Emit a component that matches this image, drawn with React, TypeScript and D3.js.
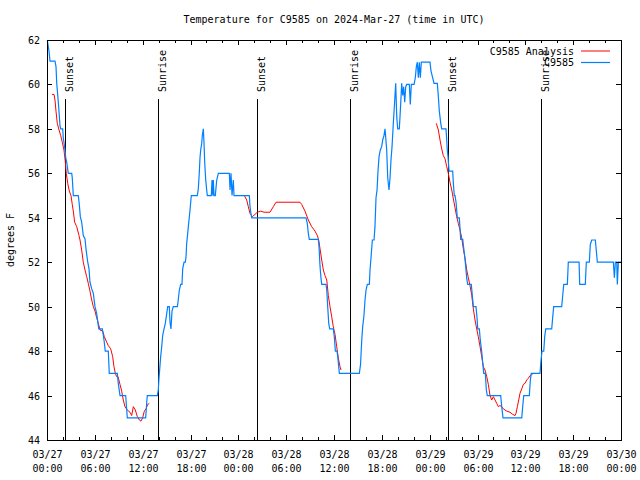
import React from "react";
import * as d3 from "d3";

// Hours since 2024-03-27 00:00 UTC, temperature (°F)
const obsSeries: [number, number][] = [
  [0.04, 62.0], [0.25, 61.5], [0.38, 61.05], [1.0, 61.05], [1.13, 60.8], [1.22, 60.05], [1.42, 59.2],
  [1.54, 58.6], [1.63, 58.15], [1.72, 58.0], [1.97, 58.0], [2.04, 57.6], [2.26, 57.05], [2.35, 56.7],
  [2.47, 56.5], [2.67, 56.0], [3.1, 56.0], [3.17, 55.8], [3.3, 55.0], [3.93, 55.0], [4.05, 54.6],
  [4.18, 54.05], [4.35, 53.8], [4.55, 53.2], [4.77, 53.05], [4.89, 52.6], [5.11, 52.0], [5.27, 51.7],
  [5.39, 51.1], [5.61, 50.8], [5.81, 50.6], [6.02, 50.0], [6.23, 49.7], [6.49, 49.0], [6.94, 49.0],
  [7.15, 48.5], [7.31, 48.0], [7.69, 48.0], [7.81, 47.0], [8.82, 47.0], [8.94, 46.55], [9.16, 46.0],
  [9.87, 46.0], [10.0, 45.35], [10.07, 45.0], [12.38, 45.0], [12.51, 45.7], [12.58, 46.0], [13.84, 46.0],
  [13.96, 46.25], [14.05, 46.8], [14.14, 47.2], [14.26, 47.75], [14.39, 48.2], [14.51, 48.7], [14.68, 49.0],
  [14.84, 49.25], [15.02, 49.7], [15.14, 50.0], [15.34, 50.0], [15.43, 49.3], [15.55, 49.0], [15.68, 49.8],
  [15.84, 50.0], [16.35, 50.0], [16.43, 50.2], [16.6, 50.75], [16.77, 51.0], [16.93, 51.0], [17.02, 51.7],
  [17.19, 52.0], [17.35, 52.0], [17.44, 52.25], [17.52, 52.85], [17.65, 53.3], [17.77, 53.75], [17.94, 54.35],
  [18.1, 55.0], [18.85, 55.0], [18.98, 55.3], [19.1, 56.0], [19.19, 56.7], [19.28, 57.05], [19.41, 57.35],
  [19.48, 57.7], [19.61, 58.0], [19.69, 57.4], [19.78, 56.5], [19.91, 55.7], [20.03, 55.25], [20.11, 55.0],
  [20.61, 55.0], [20.7, 55.7], [20.79, 55.0], [20.86, 55.7], [20.95, 55.0], [21.11, 55.0], [21.29, 55.7],
  [21.49, 56.0], [22.87, 56.0], [22.96, 55.25], [23.08, 56.0], [23.21, 55.0], [23.37, 55.7], [23.46, 55.0],
  [25.38, 55.0], [25.46, 54.5], [25.55, 54.27], [25.68, 54.0], [32.49, 54.0], [32.65, 53.75], [32.78, 53.3],
  [32.9, 53.03], [34.03, 53.03], [34.12, 52.7], [34.25, 51.8], [34.37, 51.27], [34.46, 51.0], [35.0, 51.0],
  [35.09, 50.75], [35.21, 50.0], [35.34, 49.25], [35.46, 49.0], [35.91, 49.0], [36.04, 48.65], [36.17, 48.0],
  [36.38, 48.0], [36.47, 47.75], [36.59, 47.3], [36.67, 47.0], [39.18, 47.0], [39.33, 47.4], [39.48, 48.5],
  [39.6, 49.1], [39.76, 49.6], [39.89, 50.3], [40.02, 50.75], [40.18, 51.0], [40.43, 51.0], [40.52, 51.65],
  [40.64, 52.2], [40.81, 53.0], [41.02, 53.0], [41.14, 53.6], [41.27, 54.9], [41.4, 55.25], [41.52, 56.1],
  [41.65, 56.75], [41.81, 57.05], [41.98, 57.2], [42.11, 57.5], [42.27, 57.7], [42.4, 58.0], [42.49, 57.6],
  [42.61, 57.05], [42.74, 55.8], [42.9, 55.25], [43.03, 55.8], [43.15, 56.6], [43.28, 57.2], [43.44, 58.25],
  [43.62, 59.3], [43.74, 60.05], [43.87, 58.55], [43.99, 58.0], [44.19, 58.0], [44.28, 58.55], [44.41, 59.45],
  [44.49, 60.05], [44.62, 59.5], [44.74, 59.9], [44.87, 59.2], [45.0, 59.9], [45.12, 60.0], [45.45, 60.0],
  [45.57, 59.1], [45.7, 60.0], [46.04, 60.0], [46.2, 60.3], [46.33, 60.8], [46.45, 61.0], [46.58, 60.3],
  [46.7, 61.0], [46.83, 60.3], [46.95, 61.0], [48.04, 61.0], [48.17, 60.6], [48.38, 60.3], [48.55, 60.05],
  [48.96, 60.05], [49.09, 59.45], [49.21, 58.8], [49.39, 58.25], [49.51, 58.0], [50.05, 58.0], [50.14, 57.5],
  [50.21, 57.05], [50.3, 56.75], [50.43, 56.1], [50.89, 56.1], [50.97, 55.55], [51.09, 55.0], [51.18, 55.0],
  [51.31, 54.7], [51.47, 54.0], [51.72, 54.0], [51.89, 53.03], [52.15, 53.03], [52.22, 52.8], [52.4, 52.25],
  [52.52, 51.8], [52.65, 51.27], [52.77, 51.0], [53.22, 51.0], [53.35, 50.5], [53.48, 50.0], [53.81, 50.0],
  [53.94, 49.5], [54.03, 49.0], [54.23, 49.0], [54.35, 48.5], [54.53, 47.97], [54.65, 47.5], [54.78, 47.0],
  [54.98, 47.0], [55.11, 46.25], [55.23, 46.0], [56.91, 46.0], [57.04, 45.5], [57.2, 45.0], [59.55, 45.0],
  [59.67, 45.5], [59.8, 46.0], [60.5, 46.0], [60.63, 46.7], [60.75, 47.0], [61.84, 47.0], [61.97, 47.6],
  [62.09, 48.0], [62.31, 48.0], [62.43, 48.65], [62.56, 49.0], [63.31, 49.0], [63.44, 49.55], [63.56, 50.0],
  [64.56, 50.0], [64.69, 50.5], [64.82, 51.0], [65.27, 51.0], [65.39, 52.0], [66.74, 52.0], [66.82, 51.0],
  [67.52, 51.0], [67.65, 52.0], [68.03, 52.0], [68.15, 52.8], [68.33, 53.0], [68.78, 53.0], [68.91, 52.5],
  [69.03, 52.0], [71.04, 52.0], [71.17, 51.3], [71.29, 52.0], [71.47, 52.0], [71.54, 51.0], [71.67, 52.0],
  [72.0, 52.0],
];

const analysisSeg1: [number, number][] = [
  [0.63, 59.55], [0.88, 59.55], [1.0, 59.3], [1.13, 58.8], [1.29, 58.25], [1.51, 57.95], [1.72, 57.7],
  [1.92, 57.4], [2.13, 57.05], [2.3, 56.5], [2.42, 56.0], [2.6, 55.55], [2.8, 55.2], [3.01, 55.0],
  [3.17, 54.6], [3.3, 54.3], [3.47, 53.8], [3.73, 53.6], [4.01, 53.2], [4.14, 53.0], [4.35, 52.55],
  [4.55, 52.0], [4.77, 51.65], [4.98, 51.35], [5.18, 51.05], [5.39, 50.7], [5.61, 50.3], [5.81, 50.0],
  [6.02, 49.8], [6.23, 49.5], [6.44, 49.25], [6.65, 48.95], [6.99, 48.9], [7.19, 48.65], [7.49, 48.4],
  [7.69, 48.25], [7.99, 48.1], [8.24, 47.75], [8.4, 47.3], [8.57, 47.0], [8.74, 46.85], [8.91, 46.85],
  [9.16, 46.5], [9.37, 46.2], [9.57, 45.8], [9.78, 45.5], [10.07, 45.35], [10.41, 45.25], [10.62, 45.1],
  [10.83, 45.5], [11.08, 45.35], [11.33, 45.05], [11.58, 44.9], [11.79, 44.85], [12.0, 45.0], [12.21, 45.3],
  [12.42, 45.4], [12.63, 45.6], [12.83, 45.65],
];
const analysisSeg2: [number, number][] = [
  [24.75, 55.0], [25.05, 54.8], [25.25, 54.5], [25.46, 54.2], [25.75, 54.05], [26.09, 54.15], [26.38, 54.25],
  [26.81, 54.3], [27.22, 54.25], [27.97, 54.25], [28.39, 54.5], [28.73, 54.7], [31.74, 54.7], [31.95, 54.6],
  [32.36, 54.3], [32.78, 53.9], [33.2, 53.6], [33.62, 53.4], [33.91, 53.2], [34.08, 53.0], [34.25, 52.6],
  [34.46, 52.1], [34.66, 51.65], [34.87, 51.4], [35.09, 51.2], [35.29, 50.5], [35.5, 50.0], [35.71, 49.55],
  [35.91, 49.1], [36.13, 48.75], [36.34, 48.2], [36.54, 47.7], [36.75, 47.3], [36.88, 47.15],
];
const analysisSeg3: [number, number][] = [
  [48.83, 58.25], [49.09, 57.95], [49.3, 57.5], [49.51, 57.1], [49.71, 56.8], [49.93, 56.65], [50.14, 56.3],
  [50.34, 56.0], [50.55, 55.6], [50.77, 55.25], [50.97, 54.85], [51.18, 54.45], [51.39, 54.05], [51.59, 53.75],
  [51.81, 53.45], [52.02, 53.1], [52.22, 52.6], [52.43, 52.2], [52.65, 51.65], [52.85, 51.3], [53.06, 50.95],
  [53.28, 50.5], [53.48, 49.9], [53.69, 49.4], [53.9, 49.0], [54.1, 48.65], [54.32, 48.2], [54.53, 47.75],
  [54.73, 47.3], [54.94, 47.15], [55.16, 46.85], [55.36, 46.5], [55.57, 46.0], [55.78, 45.8], [55.99, 45.95],
  [56.2, 45.8], [56.41, 45.65], [56.61, 45.5], [56.82, 45.55], [57.04, 45.5], [57.24, 45.4], [57.45, 45.35],
  [57.67, 45.3], [58.08, 45.25], [58.42, 45.15], [58.71, 45.1], [58.83, 45.2], [59.0, 45.5], [59.17, 45.8],
  [59.33, 46.1], [59.55, 46.3], [59.75, 46.5], [59.96, 46.55], [60.17, 46.7], [60.38, 46.78], [60.59, 46.9],
  [60.8, 46.95], [61.0, 47.0],
];
const analysisSegments = [analysisSeg1, analysisSeg2, analysisSeg3];

const sunLabels = ["Sunset", "Sunrise", "Sunset", "Sunrise", "Sunset", "Sunrise"];
const sunHours = [2.3, 13.96, 26.38, 38.04, 50.34, 62.0];

const yTicks = [44, 46, 48, 50, 52, 54, 56, 58, 60, 62];
const legendLabels = ["C9585 Analysis", "C9585"];
const title = "Temperature for C9585 on 2024-Mar-27 (time in UTC)";
const yLabel = "degrees F";

const START = Date.UTC(2024, 2, 27, 0, 0, 0);
const toDate = (h: number) => new Date(START + h * 3600000);

const W = 640, H = 480;
const L = 47, R = 621, T = 40, B = 440;
const FONT = "'DejaVu Sans Mono', 'Liberation Mono', monospace";
const RED = "#ff0000";
const BLUE = "#0080ff";

export default function App() {
  const x = d3.scaleUtc().domain([toDate(0), toDate(72)]).range([L, R]);
  const y = d3.scaleLinear().domain([44, 62]).range([B, T]);
  const line = d3
    .line<[number, number]>()
    .x((d) => x(toDate(d[0])))
    .y((d) => y(d[1]));

  const majorTicks = x.ticks(d3.utcHour.every(6)!);
  const minorTicks = x.ticks(d3.utcHour.every(2)!).filter((d) => d.getUTCHours() % 6 !== 0);
  const fmtDate = d3.utcFormat("%m/%d");
  const fmtTime = d3.utcFormat("%H:%M");

  return (
    <svg width={W} height={H} style={{ display: "block", position: "absolute", left: 0, top: 0, background: "#fff" }}
      fontFamily={FONT} fontSize={10}>
      <rect width={W} height={H} fill="#fff" />
      <text x={(L + R) / 2} y={23} textAnchor="middle" fill="#000">{title}</text>

      {/* sunrise/sunset markers */}
      {sunHours.map((h, i) => {
        const sx = Math.round(x(toDate(h))) + 0.5;
        return (
          <g key={"sun" + i}>
            <line x1={sx} x2={sx} y1={99} y2={B} stroke="#000" strokeWidth={1} shapeRendering="crispEdges" />
            <text transform={`translate(${sx + 7},92) rotate(-90)`} textAnchor="start" fill="#000">{sunLabels[i]}</text>
          </g>
        );
      })}

      {/* series */}
      {analysisSegments.map((seg, i) => (
        <path key={"a" + i} d={line(seg) || ""} fill="none" stroke={RED} strokeWidth={1} />
      ))}
      <path d={line(obsSeries) || ""} fill="none" stroke={BLUE} strokeWidth={1.2} />

      {/* frame */}
      <rect x={L + 0.5} y={T + 0.5} width={R - L} height={B - T} fill="none" stroke="#000" strokeWidth={1} shapeRendering="crispEdges" />

      {/* y ticks */}
      {yTicks.map((v) => {
        const ty = Math.round(y(v)) + 0.5;
        return (
          <g key={"y" + v}>
            <line x1={L} x2={L + 5} y1={ty} y2={ty} stroke="#000" shapeRendering="crispEdges" />
            <line x1={R - 5} x2={R} y1={ty} y2={ty} stroke="#000" shapeRendering="crispEdges" />
            <text x={40} y={ty} dy="0.35em" textAnchor="end" fill="#000">{v}</text>
          </g>
        );
      })}

      {/* x ticks */}
      {minorTicks.map((d, i) => {
        const tx = Math.round(x(d)) + 0.5;
        return (
          <g key={"mx" + i}>
            <line x1={tx} x2={tx} y1={B} y2={B - 3} stroke="#000" shapeRendering="crispEdges" />
            <line x1={tx} x2={tx} y1={T} y2={T + 3} stroke="#000" shapeRendering="crispEdges" />
          </g>
        );
      })}
      {majorTicks.map((d, i) => {
        const tx = Math.round(x(d)) + 0.5;
        return (
          <g key={"x" + i}>
            <line x1={tx} x2={tx} y1={B} y2={B - 5} stroke="#000" shapeRendering="crispEdges" />
            <line x1={tx} x2={tx} y1={T} y2={T + 5} stroke="#000" shapeRendering="crispEdges" />
            <text x={tx} y={458} textAnchor="middle" fill="#000">{fmtDate(d)}</text>
            <text x={tx} y={472} textAnchor="middle" fill="#000">{fmtTime(d)}</text>
          </g>
        );
      })}

      <text transform={`translate(14,${(T + B) / 2}) rotate(-90)`} textAnchor="middle" fill="#000">{yLabel}</text>

      {/* legend */}
      {legendLabels.map((lab, i) => {
        const ly = 51 + i * 11.5;
        return (
          <g key={"lg" + i}>
            <text x={574} y={ly} dy="0.35em" textAnchor="end" fill="#000">{lab}</text>
            <line x1={581} x2={610} y1={ly} y2={ly} stroke={i === 0 ? RED : BLUE} strokeWidth={i === 0 ? 1 : 1.2} />
          </g>
        );
      })}
    </svg>
  );
}
